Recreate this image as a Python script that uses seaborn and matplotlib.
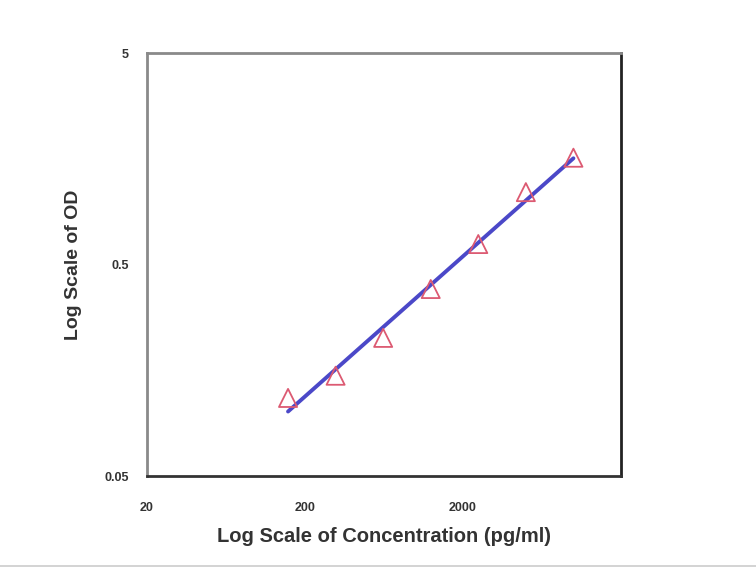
import numpy as np
import pandas as pd
import matplotlib
matplotlib.use("Agg")
import matplotlib.pyplot as plt
from matplotlib.lines import Line2D
import seaborn as sns

# standard curve values
conc = [156.25, 312.5, 625, 1250, 2500, 5000, 10000]
od = [0.117, 0.149, 0.225, 0.383, 0.625, 1.10, 1.60]
x_ticks = [20, 200, 2000]
x_tick_labels = ["20", "200", "2000"]
y_ticks = [0.05, 0.5, 5]
y_tick_labels = ["0.05", "0.5", "5"]

df = pd.DataFrame({"conc": conc, "od": od})

# power trendline (straight line in log-log)
slope, icpt = np.polyfit(np.log10(df["conc"]), np.log10(df["od"]), 1)
fit = pd.DataFrame({"conc": [min(conc), max(conc)]})
fit["od"] = 10 ** (icpt + slope * np.log10(fit["conc"]))

sns.set_style("white")
plt.rcParams["font.family"] = ["Liberation Sans", "DejaVu Sans"]

fig = plt.figure(figsize=(7.56, 5.81), dpi=100)
ax = fig.add_axes([0.1944, 0.1807, 0.627, 0.728])

sns.lineplot(data=fit, x="conc", y="od", color="#4b48c8", lw=2.8, ax=ax)
sns.scatterplot(data=df, x="conc", y="od", marker="^", s=170,
                facecolors="none", edgecolor="#dc5a72", linewidth=1.3, ax=ax, zorder=3)

ax.set_xscale("log")
ax.set_yscale("log")
ax.set_xlim(20, 20000)
ax.set_ylim(0.05, 5)
ax.set_xticks(x_ticks)
ax.set_xticklabels(x_tick_labels)
ax.set_yticks(y_ticks)
ax.set_yticklabels(y_tick_labels)
ax.minorticks_off()
ax.tick_params(axis="x", direction="inout", length=6, width=1.2, color="#444",
               labelsize=9, labelcolor="#333", pad=16)
ax.tick_params(axis="y", direction="out", length=5, width=1.2, color="#888",
               labelsize=9, labelcolor="#333", pad=8)
for t in ax.get_xticklabels() + ax.get_yticklabels():
    t.set_fontweight("bold")

ax.set_xlabel("Log Scale of Concentration (pg/ml)", fontsize=14.5,
              fontweight="bold", color="#333", labelpad=9)
ax.set_ylabel("Log Scale of OD", fontsize=14, fontweight="bold",
              color="#333", labelpad=16)

ax.spines["left"].set_color("#8a8a8a")
ax.spines["top"].set_color("#8a8a8a")
ax.spines["right"].set_color("#222")
ax.spines["bottom"].set_color("#333")
for s in ax.spines.values():
    s.set_linewidth(2)

# thin gray rule near the bottom of the image
fig.add_artist(Line2D([0, 1], [1 - 566 / 581] * 2, color="#cccccc", lw=1.2))

fig.savefig("out.png", dpi=100)
